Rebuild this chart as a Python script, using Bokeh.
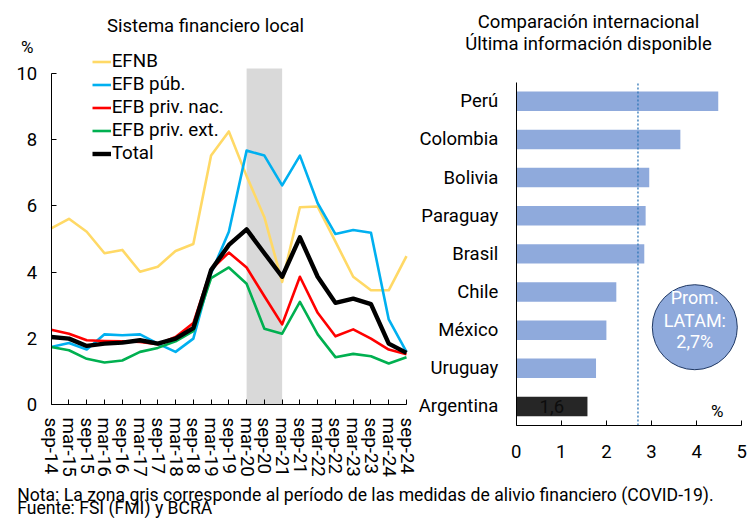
from bokeh.plotting import figure
from bokeh.models import (Range1d, FixedTicker, Label, ColumnDataSource, LinearAxis,
                          Legend, LegendItem)
from bokeh.embed import file_html
from bokeh.resources import INLINE
from bokeh.core.properties import value

FONT = "Roboto"

# ---------------- data: left panel ----------------
periods = ["sep-14", "mar-15", "sep-15", "mar-16", "sep-16", "mar-17", "sep-17",
           "mar-18", "sep-18", "mar-19", "sep-19", "mar-20", "sep-20", "mar-21",
           "sep-21", "mar-22", "sep-22", "mar-23", "sep-23", "mar-24", "sep-24"]
efnb = [5.32, 5.61, 5.22, 4.57, 4.67, 4.01, 4.16, 4.64, 4.85, 7.52, 8.25, 6.9,
        5.66, 3.70, 5.96, 5.98, 4.92, 3.86, 3.45, 3.45, 4.48]
efb_pub = [1.74, 1.86, 1.66, 2.12, 2.09, 2.12, 1.84, 1.59, 1.99, 3.96, 5.22, 7.67,
           7.52, 6.62, 7.52, 6.08, 5.15, 5.27, 5.19, 2.57, 1.59]
efb_priv_nac = [2.26, 2.14, 1.94, 1.92, 1.91, 1.89, 1.82, 2.04, 2.46, 4.08, 4.59,
                4.14, 3.27, 2.42, 3.86, 2.77, 2.06, 2.27, 1.99, 1.66, 1.52]
efb_priv_ext = [1.74, 1.64, 1.38, 1.27, 1.33, 1.59, 1.71, 1.91, 2.22, 3.82, 4.14,
                3.65, 2.29, 2.14, 3.10, 2.12, 1.43, 1.53, 1.46, 1.24, 1.43]
total = [2.04, 1.99, 1.77, 1.84, 1.87, 1.94, 1.84, 1.99, 2.31, 4.06, 4.82, 5.29,
         4.57, 3.86, 5.05, 3.86, 3.07, 3.20, 3.03, 1.84, 1.56]
covid_start, covid_end = "mar-20", "mar-21"
y_ticks_left = [0, 2, 4, 6, 8, 10]
series_names = ["EFNB", "EFB púb.", "EFB priv. nac.", "EFB priv. ext.", "Total"]
series_colors = ["#FFD966", "#00B0F0", "#FF0000", "#00B050", "#000000"]
series_widths = [2.6, 2.6, 2.6, 2.6, 4.4]

# ---------------- data: right panel ----------------
countries = ["Perú", "Colombia", "Bolivia", "Paraguay", "Brasil", "Chile",
             "México", "Uruguay", "Argentina"]
country_values = [4.48, 3.64, 2.95, 2.87, 2.84, 2.22, 2.00, 1.77, 1.58]
x_ticks_right = [0, 1, 2, 3, 4, 5]
latam_avg = 2.7
argentina_label = "1,6"
avg_text = ["Prom.", "LATAM:", "2,7%"]

W, H = 747, 518

# one canvas holding both panels; each panel gets its own ranges
p = figure(width=W, height=H, x_range=Range1d(0, W), y_range=Range1d(0, H),
           output_backend="svg", toolbar_location=None,
           x_axis_location=None, y_axis_location=None,
           min_border_left=0, min_border_right=0, min_border_top=0, min_border_bottom=0)
p.outline_line_color = None
p.grid.visible = False

# left panel ranges: index 0 -> 50.7px, 17.765px per step; value 0 -> 404px (from top), 33.1px per unit
ux, uy = 17.765, 33.1
x0_l, y0_l = 50.7, H - 404.0
p.extra_x_ranges["lx"] = Range1d(-x0_l / ux, (W - x0_l) / ux)
p.extra_y_ranges["ly"] = Range1d(-y0_l / uy, (H - y0_l) / uy)
# right panel ranges: 0 -> 515.7px, 45.1px per unit; category slots of 38.14px from 425px
rx_u, ry_u = 45.1, 38.14
x0_r, y0_r = 515.7, H - 425.0
p.extra_x_ranges["rx"] = Range1d(-x0_r / rx_u, (W - x0_r) / rx_u)
p.extra_y_ranges["ry"] = Range1d(-y0_r / ry_u, (H - y0_r) / ry_u)

L = dict(x_range_name="lx", y_range_name="ly")
R = dict(x_range_name="rx", y_range_name="ry")

# ---------- left panel ----------
idx = list(range(len(periods)))
p.quad(left=[periods.index(covid_start)], right=[periods.index(covid_end)],
       bottom=[0], top=[10.15], color="#D9D9D9", line_color=None, **L)

items = []
for name, data, col, w in zip(series_names,
                              [efnb, efb_pub, efb_priv_nac, efb_priv_ext, total],
                              series_colors, series_widths):
    r = p.line(idx, data, line_color=col, line_width=w, line_join="round", **L)
    items.append(LegendItem(label=name, renderers=[r]))

leg = Legend(items=items, location=(91.7, H - 164.5), padding=0, margin=0, spacing=0,
             label_height=23, glyph_height=23, glyph_width=19, label_standoff=1,
             label_text_font=FONT, label_text_font_size="18.8px",
             label_text_color="#000000", background_fill_alpha=0, border_line_color=None)
p.add_layout(leg)

ax_lx = LinearAxis(fixed_location=0, bounds=(0, 20), ticker=FixedTicker(ticks=idx), **L)
ax_lx.major_label_overrides = {i: s for i, s in enumerate(periods)}
ax_lx.major_label_orientation = "vertical"
ax_lx.major_label_standoff = 13
ax_ly = LinearAxis(fixed_location=0, bounds=(0, 10), ticker=FixedTicker(ticks=y_ticks_left), **L)
ax_ly.major_label_standoff = 14

# ---------- right panel ----------
ypos = [len(countries) - 0.5 - i for i in range(len(countries))]
bar_colors = ["#262626" if c == "Argentina" else "#8FAADC" for c in countries]
src = ColumnDataSource(dict(y=ypos, right=country_values, color=bar_colors))
p.hbar(y="y", right="right", left=0, height=0.51, color="color", line_color=None,
       source=src, **R)

p.segment(x0=[latam_avg], y0=[0], x1=[latam_avg], y1=[len(countries)],
          line_color="#2E75B6", line_width=1.3, line_dash="2 2", **R)

p.text(x=[country_values[-1] / 2], y=[ypos[-1]], text=[argentina_label], text_align="center",
       text_baseline="middle", text_font=value(FONT), text_font_size="18.5px",
       text_color="#0d0d0d", **R)

bx, by = 3.96, 2.577
p.scatter(x=[bx], y=[by], marker="circle", size=85, fill_color="#8FAADC",
          line_color="#1F3864", line_width=1, **R)
p.text(x=[bx] * 3, y=[by + 0.77, by + 0.18, by - 0.37], text=avg_text, text_align="center",
       text_baseline="middle", text_font=value(FONT), text_font_size="18px",
       text_color="#FFFFFF", **R)

ax_rx = LinearAxis(fixed_location=0, bounds=(0, 5), ticker=FixedTicker(ticks=x_ticks_right), **R)
ax_rx.major_label_standoff = 19
ax_ry = LinearAxis(fixed_location=0, bounds=(0, len(countries)),
                   ticker=FixedTicker(ticks=ypos), **R)
ax_ry.major_label_overrides = {yv: c for yv, c in zip(ypos, countries)}
ax_ry.major_label_standoff = 18
ax_ry.major_tick_in = 0
ax_ry.major_tick_out = 0

for ax in (ax_lx, ax_ly, ax_rx, ax_ry):
    ax.major_label_text_font = FONT
    ax.major_label_text_color = "#000000"
    ax.axis_line_color = "#000000"
    ax.major_tick_line_color = "#000000"
    ax.minor_tick_line_color = None
    if ax is not ax_ry:
        ax.major_tick_in = 5
        ax.major_tick_out = 0
ax_lx.major_label_text_font_size = "18.8px"
ax_ly.major_label_text_font_size = "18.5px"
ax_rx.major_label_text_font_size = "18.5px"
ax_ry.major_label_text_font_size = "18.5px"

p.add_layout(ax_lx, "below")
p.add_layout(ax_rx, "below")
p.add_layout(ax_ly, "left")
p.add_layout(ax_ry, "left")

# ---------- texts (canvas pixel coordinates, y measured from bottom) ----------
SHIFT = 5.5  # rendered baseline sits this much below the requested one


def label(x, y_top, text, size, align="left"):
    p.add_layout(Label(x=x, y=H - (y_top - SHIFT), text=text, text_align=align,
                       text_baseline="alphabetic", text_font=FONT,
                       text_font_size=size, text_color="#000000"))


label(205, 30.7, "Sistema financiero local", "18.5px", "center")
label(26.7, 51.7, "%", "17px", "center")
label(588, 26.7, "Comparación internacional", "18.5px", "center")
label(588, 49.0, "Última información disponible", "18.5px", "center")
p.add_layout(Label(x=4.46, y=0.39, text="%", text_align="center", text_baseline="middle",
                   text_font=FONT, text_font_size="17px", text_color="#000000", **R))
label(16.7, 499.5, "Nota: La zona gris corresponde al período de las medidas de alivio financiero (COVID-19).", "17.6px")
label(16.7, 513.0, "Fuente:  FSI (FMI) y BCRA", "17.6px")

open("out.html", "w").write(file_html(p, INLINE))
